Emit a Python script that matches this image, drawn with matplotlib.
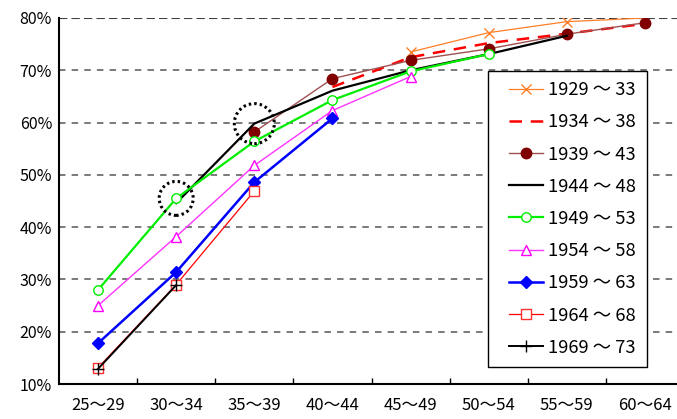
import numpy as np
import matplotlib.pyplot as plt
from matplotlib.patches import Ellipse
from matplotlib.lines import Line2D
from matplotlib.legend_handler import HandlerLine2D

plt.rcParams['font.family'] = ['Noto Sans CJK JP', 'DejaVu Sans']

ages = ['25～29', '30～34', '35～39', '40～44', '45～49', '50～54', '55～59', '60～64']
cohorts = ['1929 ～ 33', '1934 ～ 38', '1939 ～ 43', '1944 ～ 48', '1949 ～ 53',
           '1954 ～ 58', '1959 ～ 63', '1964 ～ 68', '1969 ～ 73']

# rates in %, None = no data
v1929 = [None, None, None, None, 73.5, 77.2, 79.3, 80.0]
v1934 = [None, None, None, 66.8, 72.5, 75.2, 77.0, 78.9]
v1939 = [None, None, 58.2, 68.4, 71.9, 74.1, 76.9, 79.1]
v1944 = [None, 44.6, 59.8, 66.1, 70.0, 73.1, 76.6, None]
v1949 = [28.0, 45.5, 56.4, 64.3, 69.8, 73.1, None, None]
v1954 = [25.0, 38.2, 51.8, 62.3, 68.8, None, None, None]
v1959 = [17.8, 31.4, 48.6, 60.8, None, None, None, None]
v1964 = [13.1, 29.0, 46.9, None, None, None, None, None]
v1969 = [12.9, 28.9, None, None, None, None, None, None]

def arr(v):
    return np.array([np.nan if a is None else a for a in v], dtype=float)

x = np.arange(len(ages))

fig = plt.figure(figsize=(6.77, 4.19), dpi=100)
ax = fig.add_axes([59/677, 35/419, 625/677, 366/419])

for yv in [20, 30, 40, 50, 60, 70]:
    ax.axhline(yv, color='#707070', lw=1.3, ls=(0, (3.6, 3.4)), zorder=0)
ax.axhline(80, color='#404040', lw=1.5, ls=(0, (4, 2)), zorder=0)

ax.plot(x, arr(v1929), color='#ff7f27', lw=0.9, marker='x', ms=7.5, mew=1.0, label=cohorts[0])
ax.plot(x, arr(v1934), color='#ff0000', lw=1.8, ls=(0, (5, 3.5)), label=cohorts[1])
ax.plot(x, arr(v1939), color='#a05050', lw=1.0, marker='o', ms=7.5, mfc='#800000', mec='#800000', label=cohorts[2])
ax.plot(x, arr(v1944), color='black', lw=1.6, label=cohorts[3])
ax.plot(x, arr(v1949), color='#00ee00', lw=1.6, marker='o', ms=6.8, mfc='white', mec='#00ee00', label=cohorts[4])
ax.plot(x, arr(v1954), color='#ff33ff', lw=1.0, marker='^', ms=7.5, mfc='white', mec='#ff00ff', label=cohorts[5])
ax.plot(x, arr(v1959), color='#0000ff', lw=1.8, marker='D', ms=6, mfc='#0000ff', mec='#0000ff', label=cohorts[6])
ax.plot(x, arr(v1964), color='#ff0000', lw=0.9, marker='s', ms=7, mfc='white', mec='#ff3030', label=cohorts[7])
ax.plot(x, arr(v1969), color='black', lw=1.4, marker='+', ms=8, mew=1.0, label=cohorts[8])

# dotted highlight circles
xpx = 625 / 8
ypx = 366 / 70
for cx, cy, r in [(1, v1949[1], 17), (2, v1944[2], 20)]:
    ax.add_patch(Ellipse((cx, cy), 2*r/xpx, 2*r/ypx, fill=False, ec='black',
                         lw=2.2, ls=(0, (0.8, 1.0)), zorder=6))

ax.set_xlim(-0.5, 7.5)
ax.set_ylim(10, 80)
ax.set_yticks(np.arange(10, 81, 10))
ax.set_yticklabels([f'{v}%' for v in range(10, 81, 10)], fontsize=11.5)
ax.set_xticks(x)
ax.set_xticklabels(ages, fontsize=12)
ax.set_xticks(np.arange(0.5, 7.5, 1), minor=True)
ax.tick_params(axis='x', which='major', length=0, pad=9)
ax.tick_params(axis='x', which='minor', length=4, direction='in', width=1)
ax.tick_params(axis='y', length=0, pad=5)
ax.spines['top'].set_visible(False)
ax.spines['right'].set_visible(False)
ax.spines['left'].set_linewidth(1.5)
ax.spines['bottom'].set_linewidth(1.5)

leg = ax.legend(loc='upper left', bbox_to_anchor=(488/677, 1 - 71/419),
                bbox_transform=fig.transFigure, fontsize=13.2, frameon=True,
                fancybox=False, edgecolor='black', framealpha=1,
                handlelength=2.45, labelspacing=0.775, borderpad=0.55,
                handletextpad=0.3, borderaxespad=0,
                handler_map={Line2D: HandlerLine2D(xpad=0.62)})
leg.get_frame().set_linewidth(1.0)

plt.savefig('out.png', dpi=100)
